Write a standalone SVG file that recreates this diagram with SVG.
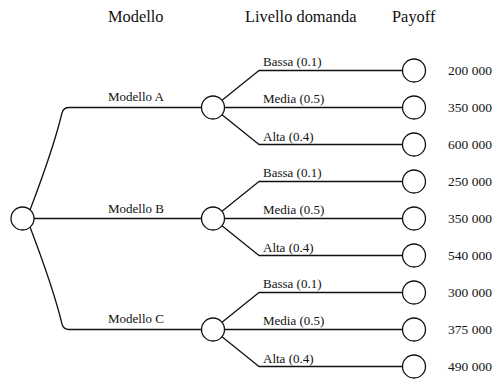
<svg xmlns="http://www.w3.org/2000/svg" width="494" height="383" viewBox="0 0 494 383">
<style>
.ln{fill:none;stroke:#111;stroke-width:1.3;stroke-linejoin:round}
.nd{fill:#fff;stroke:#111;stroke-width:1.3}
.t{font-family:"Liberation Serif","Times New Roman",serif;fill:#111}
.h{font-size:16.4px}
.s{font-size:13px}
.v{font-size:13.5px}
</style>
<rect width="494" height="383" fill="#fff"/>
<g id="headers" class="t h">
<text x="108" y="22">Modello</text>
<text x="245" y="22">Livello domanda</text>
<text x="392" y="22">Payoff</text>
</g>
<g id="connectors" class="ln">
<path d="M30,210 C38,189 55,142 62,113 Q63.5,107.5 69,107.5 H202"/>
<path d="M34,218.5 H201"/>
<path d="M30,227 C38,248 55,295 62,324 Q63.5,329.5 69,329.5 H201"/>
<path d="M222,100.3 L259,70.5 H403"/>
<path d="M224.5,107.5 H403"/>
<path d="M222,114.7 L259,144.5 H403"/>
<path d="M222,211.3 L259,181.5 H403"/>
<path d="M224.5,218.5 H403"/>
<path d="M222,225.7 L259,255.5 H403"/>
<path d="M222,322.3 L259,292.5 H403"/>
<path d="M224.5,329.5 H403"/>
<path d="M222,336.7 L259,366.5 H403"/>
</g>
<g id="edge-labels" class="t s" xml:space="preserve">
<text x="108" y="100.5">Modello  A</text>
<text x="108" y="212.5">Modello  B</text>
<text x="108" y="322.5">Modello  C</text>
<text x="263" y="65.5">Bassa (0.1)</text>
<text x="263" y="103">Media (0.5)</text>
<text x="263" y="140.5">Alta (0.4)</text>
<text x="263" y="176.5">Bassa (0.1)</text>
<text x="263" y="214">Media (0.5)</text>
<text x="263" y="251.5">Alta (0.4)</text>
<text x="263" y="287.5">Bassa (0.1)</text>
<text x="263" y="325">Media (0.5)</text>
<text x="263" y="362.5">Alta (0.4)</text>
</g>
<g id="root"><circle class="nd" cx="22.5" cy="218.5" r="11.5"/></g>
<g id="chance-A"><circle class="nd" cx="213" cy="107.5" r="11.5"/></g>
<g id="chance-B"><circle class="nd" cx="213" cy="218.5" r="11.5"/></g>
<g id="chance-C"><circle class="nd" cx="213" cy="329.5" r="11.5"/></g>
<g id="end-A1"><circle class="nd" cx="414" cy="70.5" r="11.5"/><text class="t v" x="448" y="75">200 000</text></g>
<g id="end-A2"><circle class="nd" cx="414" cy="107.5" r="11.5"/><text class="t v" x="448" y="112">350 000</text></g>
<g id="end-A3"><circle class="nd" cx="414" cy="144.5" r="11.5"/><text class="t v" x="448" y="149">600 000</text></g>
<g id="end-B1"><circle class="nd" cx="414" cy="181.5" r="11.5"/><text class="t v" x="448" y="186">250 000</text></g>
<g id="end-B2"><circle class="nd" cx="414" cy="218.5" r="11.5"/><text class="t v" x="448" y="223">350 000</text></g>
<g id="end-B3"><circle class="nd" cx="414" cy="255.5" r="11.5"/><text class="t v" x="448" y="260">540 000</text></g>
<g id="end-C1"><circle class="nd" cx="414" cy="292.5" r="11.5"/><text class="t v" x="448" y="297">300 000</text></g>
<g id="end-C2"><circle class="nd" cx="414" cy="329.5" r="11.5"/><text class="t v" x="448" y="334">375 000</text></g>
<g id="end-C3"><circle class="nd" cx="414" cy="366.5" r="11.5"/><text class="t v" x="448" y="371">490 000</text></g>
</svg>
